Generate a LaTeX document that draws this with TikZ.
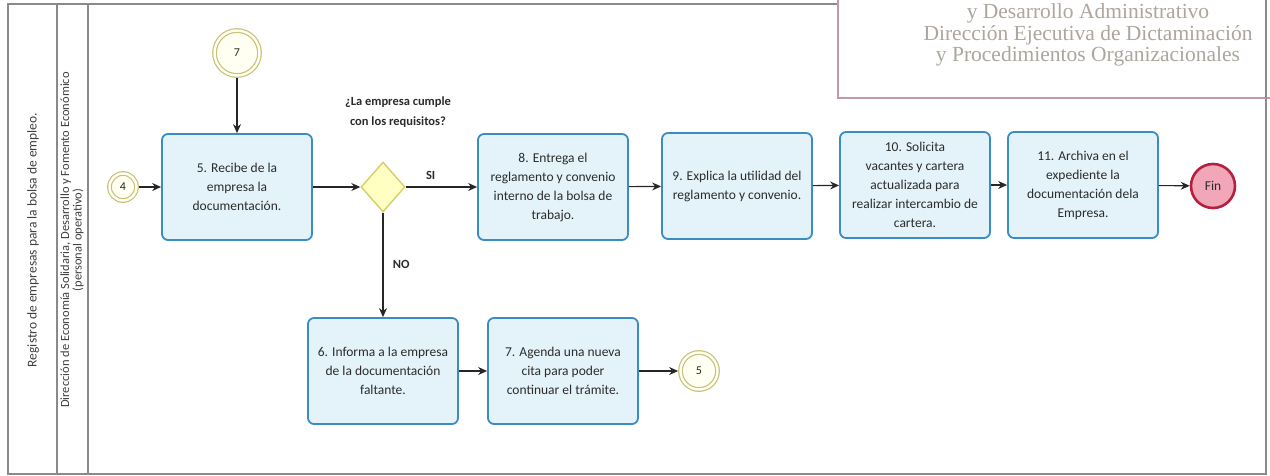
\documentclass[tikz,border=0pt]{standalone}
\usepackage{fontspec}
\setmainfont{Carlito}
\newfontfamily\stampfont{Liberation Serif}
\usetikzlibrary{arrows.meta,shapes.geometric}
\definecolor{boxfill}{HTML}{E4F3FA}
\definecolor{boxline}{HTML}{3A8CC4}
\definecolor{ringcol}{HTML}{C8C07A}
\definecolor{ringfill}{HTML}{FFFFF2}
\definecolor{diafill}{HTML}{FFFFC4}
\definecolor{dialine}{HTML}{D6CE66}
\definecolor{finfill}{HTML}{F2A7B8}
\definecolor{finline}{HTML}{B2213F}
\definecolor{framecol}{HTML}{8A8A8A}
\definecolor{stampline}{HTML}{C49AA2}
\definecolor{stamptext}{HTML}{ADA69E}
\definecolor{txt}{HTML}{2B2B2B}
\begin{document}
\begin{tikzpicture}[x=1pt,y=-1pt,
  task/.style={draw=boxline, line width=1.8pt, fill=boxfill, rounded corners=6pt,
    minimum width=150pt, minimum height=106pt, align=center,
    font=\fontsize{13.5}{19}\selectfont, text=txt, inner sep=2pt},
  ring/.style={circle, draw=ringcol, double=ringfill, double distance=2.4pt,
    line width=1.2pt, fill=ringfill, inner sep=0pt, outer sep=2.4pt,
    font=\fontsize{12}{14}\selectfont, text=txt},
  gate/.style={diamond, draw=dialine, line width=1.4pt, fill=diafill,
    minimum width=44pt, minimum height=50pt, inner sep=0pt},
  endev/.style={circle, draw=finline, line width=2.6pt, fill=finfill,
    minimum size=44pt, inner sep=0pt, font=\fontsize{13.5}{16}\selectfont, text=txt},
  flow/.style={draw=black!85, line width=1.1pt, -{Stealth[length=9pt,width=8pt,inset=3pt]}},
  lbl/.style={font=\bfseries\fontsize{12.5}{20}\selectfont, text=txt, align=center},
  lanetxt/.style={rotate=90, text=black!75, align=center},
]
\useasboundingbox (0,0) rectangle (1270,476);
\clip (0,0) rectangle (1270,476);
% frame
\draw[framecol, line width=1.2pt] (8,4) -- (8,474) -- (1266,474) -- (1266,4) -- cycle;
\draw[framecol, line width=1.2pt] (57,4) -- (57,474);
\draw[framecol, line width=1.2pt] (88,4) -- (88,474);
% stamp
\filldraw[fill=white, draw=stampline, line width=1.5pt] (838,-10) rectangle (1290,98);
\draw[framecol, line width=1.2pt] (1266,-5) -- (1266,98);
\node[font=\stampfont\fontsize{21.5}{21.5}\selectfont, text=stamptext, align=center] (stamp) at (1088,35)
  {y Desarrollo Administrativo\\Dirección Ejecutiva de Dictaminación\\y Procedimientos Organizacionales};
% lane headers
\node[lanetxt, font=\fontsize{13.5}{14}\selectfont] (pool) at (33,240) {Registro de empresas para la bolsa de empleo.};
\node[lanetxt, font=\fontsize{12.5}{12.5}\selectfont] (lane) at (72,240)
  {Dirección de Economía Solidaria, Desarrollo y Fomento Económico\\(personal operativo)};
% events
\node[ring, minimum size=27pt] (c4) at (123,187) {4};
\node[ring, minimum size=45pt] (c7) at (237,53) {7};
\node[ring, minimum size=37pt] (c5) at (699,371) {5};
\node[endev] (fin) at (1213,186) {Fin};
% tasks
\node[task] (b5) at (237,187) {5. Recibe de la\\empresa la\\documentación.};
\node[gate] (g) at (383,187) {};
\node[lbl] (q) at (398,112) {¿La empresa cumple\\con los requisitos?};
\node[task] (b8) at (553,187) {8. Entrega el\\reglamento y convenio\\interno de la bolsa de\\trabajo.};
\node[task] (b9) at (737,186) {9. Explica la utilidad del\\reglamento y convenio.};
\node[task] (b10) at (915,185) {10. Solicita\\vacantes y cartera\\actualizada para\\realizar intercambio de\\cartera.};
\node[task] (b11) at (1083,185) {11. Archiva en el\\expediente la\\documentación dela\\Empresa.};
\node[task] (b6) at (383,371) {6. Informa a la empresa\\de la documentación\\faltante.};
\node[task] (b7) at (563,371) {7. Agenda una nueva\\cita para poder\\continuar el trámite.};
% connectors
\draw[flow] (c4) -- (b5);
\draw[flow] (c7) -- (c7 |- b5.north);
\draw[flow] (b5) -- (g);
\draw[flow] (g) -- node[lbl, above=4pt, pos=0.35] (si) {SI} (b8);
\draw[flow] (g) -- node[lbl, right=6pt, pos=0.5] (no) {NO} (b6);
\draw[flow] (b8) -- (b9);
\draw[flow] (b9) -- (b10);
\draw[flow] (b10) -- (b11);
\draw[flow] (b11) -- (fin);
\draw[flow] (b6) -- (b7);
\draw[flow] (b7) -- (c5);
\end{tikzpicture}
\end{document}
